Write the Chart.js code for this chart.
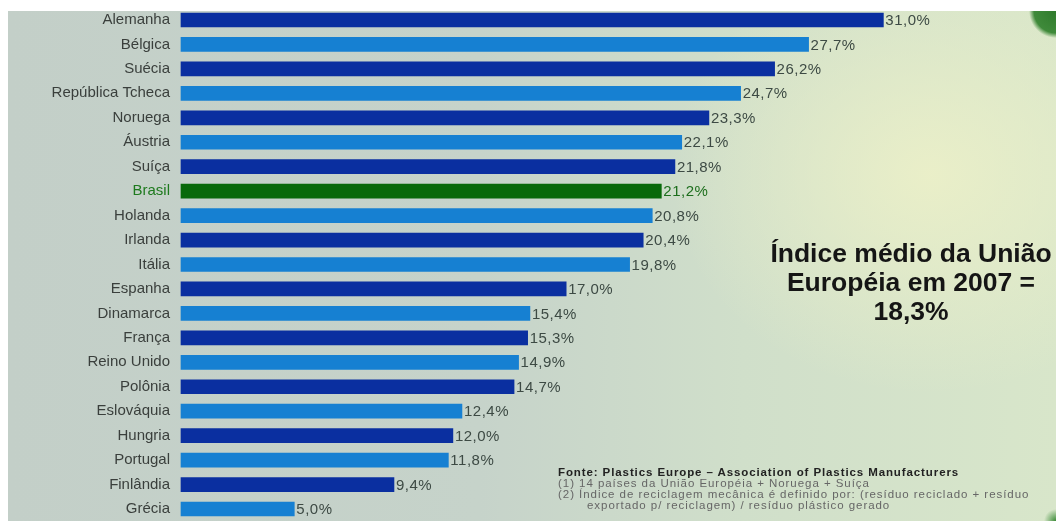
<!DOCTYPE html>
<html>
<head>
<meta charset="utf-8">
<script src="https://cdn.jsdelivr.net/npm/chart.js@4/dist/chart.umd.min.js"></script>
<style>
  html, body { margin: 0; padding: 0; background: #fff; overflow: hidden; }
  #wrap { position: relative; width: 1056px; height: 521px; }
  #bg {
    position: absolute; left: 8px; top: 11px; right: 0; bottom: 0;
    background:
      radial-gradient(circle at 100% 0%, #2f7a2c 0, #3f8a3a 22px, rgba(200,220,190,0) 27px),
      radial-gradient(circle at 100% 100%, #3a8a36 0, rgba(200,220,190,0) 12px),
      radial-gradient(ellipse 260px 220px at 88% 32%, rgba(236,240,200,0.9), rgba(236,240,200,0)),
      linear-gradient(90deg, #c3cfc8 0%, #c6d3ca 45%, #d0dfca 70%, #d8e6ca 100%);
  }
  canvas { position: absolute; left: 0; top: 0; }
  #note {
    position: absolute; left: 711px; top: 239px; width: 400px;
    font: bold 26.5px "Liberation Sans", Arial, sans-serif; color: #151515;
    text-align: center; line-height: 29px;
  }
  #src {
    position: absolute; left: 558px; top: 467px;
    font: 11.5px "Liberation Sans", Arial, sans-serif; color: #666; line-height: 11px;
    letter-spacing: 0.95px; white-space: nowrap;
  }
  #src b { color: #222; letter-spacing: 0.9px; }
</style>
</head>
<body>
<div id="wrap">
  <div id="bg"></div>
  <canvas id="chart" width="1056" height="521"></canvas>
  <div id="note">Índice médio da União<br>Européia em 2007 =<br>18,3%</div>
  <div id="src">
    <b>Fonte: Plastics Europe – Association of Plastics Manufacturers</b><br>
    (1) 14 países da União Européia + Noruega + Suíça<br>
    (2) Índice de reciclagem mecânica é definido por: (resíduo reciclado + resíduo<br>
    &nbsp;&nbsp;&nbsp;&nbsp;&nbsp;&nbsp;&nbsp;exportado p/ reciclagem) / resíduo plástico gerado
  </div>
</div>
<script>
const countries = ['Alemanha', 'Bélgica', 'Suécia', 'República Tcheca', 'Noruega', 'Áustria', 'Suíça',
  'Brasil', 'Holanda', 'Irlanda', 'Itália', 'Espanha', 'Dinamarca', 'França', 'Reino Unido',
  'Polônia', 'Eslováquia', 'Hungria', 'Portugal', 'Finlândia', 'Grécia'];
const rates = [31.0, 27.7, 26.2, 24.7, 23.3, 22.1, 21.8, 21.2, 20.8, 20.4, 19.8, 17.0,
  15.4, 15.3, 14.9, 14.7, 12.4, 12.0, 11.8, 9.4, 5.0];
const highlight = 'Brasil';

const darkBlue = '#0a2fa0';
const lightBlue = '#1680d2';
const green = '#08690a';

// alternate dark/light, the highlighted country is green and skipped in the alternation
let k = 0;
const barColors = countries.map(c => {
  if (c === highlight) return green;
  return (k++ % 2 === 0) ? darkBlue : lightBlue;
});

const fmt = v => v.toFixed(1).replace('.', ',') + '%';

const valueLabels = {
  id: 'valueLabels',
  afterDatasetsDraw(chart) {
    const ctx = chart.ctx;
    const meta = chart.getDatasetMeta(0);
    ctx.save();
    ctx.font = '15px "Liberation Sans", Arial, sans-serif';
    ctx.letterSpacing = '0.5px';
    ctx.textBaseline = 'middle';
    ctx.textAlign = 'left';
    meta.data.forEach((bar, i) => {
      ctx.fillStyle = countries[i] === highlight ? '#1d6e1d' : '#3d4a44';
      ctx.fillText(fmt(rates[i]), bar.x + 2, bar.y + 1);
    });
    ctx.restore();
  }
};

new Chart(document.getElementById('chart').getContext('2d'), {
  type: 'bar',
  data: {
    labels: countries,
    datasets: [{
      data: rates,
      backgroundColor: barColors,
      borderWidth: 0,
      barThickness: 14,
      clip: false
    }]
  },
  options: {
    indexAxis: 'y',
    responsive: false,
    animation: false,
    layout: { padding: { top: 20, bottom: 5, left: 0, right: 82 } },
    plugins: { legend: { display: false }, tooltip: { enabled: false } },
    scales: {
      x: { display: false, min: 0, max: 35 },
      y: {
        offset: false,
        grid: { display: false },
        border: { display: false },
        afterFit: s => { s.width = 181; },
        ticks: {
          padding: 3,
          font: { family: '"Liberation Sans", Arial, sans-serif', size: 15 },
          color: c => countries[c.index] === highlight ? '#1e7a1e' : '#3a3f3c'
        }
      }
    }
  },
  plugins: [valueLabels]
});
</script>
</body>
</html>
